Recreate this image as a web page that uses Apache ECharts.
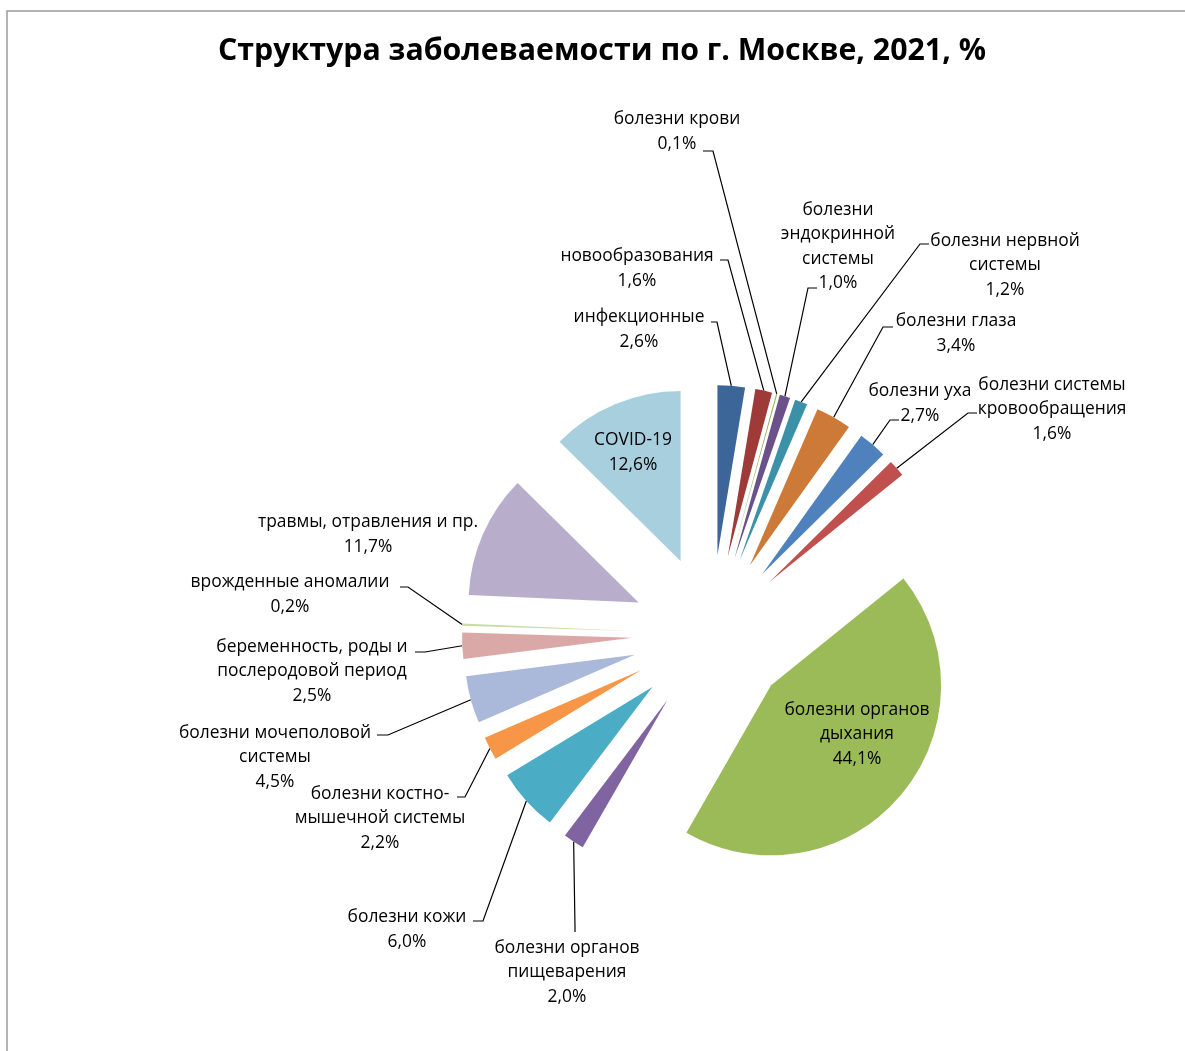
<!DOCTYPE html>
<html>
<head>
<meta charset="utf-8">
<script src="https://cdn.jsdelivr.net/npm/echarts@6/dist/echarts.min.js"></script>
<style>
  html, body { margin: 0; padding: 0; background: #fff; }
  #chart { width: 1185px; height: 1051px; }
</style>
</head>
<body>
<div id="chart"></div>
<script>
// Disease categories, clockwise from 12 o'clock
const categories = [
  'инфекционные',
  'новообразования',
  'болезни крови',
  'болезни\nэндокринной\nсистемы',
  'болезни нервной\nсистемы',
  'болезни глаза',
  'болезни уха',
  'болезни системы\nкровообращения',
  'болезни органов\nдыхания',
  'болезни органов\nпищеварения',
  'болезни кожи',
  'болезни костно-\nмышечной системы',
  'болезни мочеполовой\nсистемы',
  'беременность, роды и\nпослеродовой период',
  'врожденные аномалии',
  'травмы, отравления и пр.',
  'COVID-19'
];

// Share of total morbidity, %
const shares = [2.6, 1.6, 0.1, 1.0, 1.2, 3.4, 2.7, 1.6, 44.1, 2.0, 6.0, 2.2, 4.5, 2.5, 0.2, 11.7, 12.6];

const colors = [
  '#3c6698', '#9e3b38', '#8fae52', '#6a5189', '#3a91a8', '#cd7a38', '#4f81bd', '#c0504d',
  '#9bbb59', '#8064a2', '#4bacc6', '#f79646', '#aab9d9', '#daa8a7', '#c9dca3', '#b8aecb', '#a8cfde'
];

// Label block centres (px)
const labelPos = [
  [639, 329.5], [637, 268.5], [677, 131.5], [838, 246.5], [1005, 265.5], [956, 333.5], [920, 403.5], [1052, 409.5],
  [857, 734.5], [567, 972.5], [407, 929.5], [380, 818.5], [275, 757.5], [312, 671.5], [290, 594.5], [368, 534.5], [633, 452.5]
];

// Leader line bend and end points next to each label (null = no leader)
const leaderBends = [
  [[717, 322], [711, 322]],
  [[728, 260], [720, 260]],
  [[713, 151], [703, 151]],
  [[808, 288], [817, 288]],
  [[920, 244], [929, 244]],
  [[883, 327], [893, 327]],
  [[890, 420], [899, 420]],
  [[968, 413], [977, 413]],
  null,
  [[575, 928], [575, 932]],
  [[483, 921], [473, 921]],
  [[465, 797], [457, 797]],
  [[388, 735], [377, 735]],
  [[425, 652], [415, 652]],
  [[408, 587], [400, 587]],
  null,
  null
];

// Pie centre, radius and explosion distance (px)
const CX = 711, CY = 634, R = 170, EXPLODE = 79;
const FONT = 'Open Sans';

// Mid angle of each slice, radians clockwise from 12 o'clock
const total = shares.reduce((a, b) => a + b, 0);
const midAngles = [];
let acc = 0;
shares.forEach(v => {
  midAngles.push((acc + v / 2) / total * Math.PI * 2);
  acc += v;
});

const fmt = v => v.toFixed(1).replace('.', ',') + '%';
const hidden = 'rgba(0,0,0,0)';

// One pie per slice: the whole ring is laid out by the pie scale, only slice k is painted,
// and that pie is shifted outward along the slice's bisector.
const series = categories.map((_, k) => {
  const a = midAngles[k];
  return {
    type: 'pie',
    silent: true,
    center: [CX + EXPLODE * Math.sin(a), CY - EXPLODE * Math.cos(a)],
    radius: R,
    startAngle: 90,
    clockwise: true,
    avoidLabelOverlap: false,
    emphasis: { disabled: true },
    z: 2,
    label: {
      show: false,
      position: 'outside',
      formatter: p => p.name + '\n' + fmt(p.value),
      fontFamily: FONT,
      fontSize: 17.4,
      lineHeight: 24.5,
      color: '#000',
      align: 'center',
      overflow: 'none'
    },
    labelLine: {
      show: false,
      length: 10,
      length2: 10,
      lineStyle: { color: '#000', width: 1.2 }
    },
    labelLayout: function (params) {
      const i = params.dataIndex;
      if (i !== k) return {};
      const out = { x: labelPos[i][0], y: labelPos[i][1], align: 'center', verticalAlign: 'middle' };
      const b = leaderBends[i];
      if (b) {
        const d = EXPLODE + R;
        const anchor = [CX + d * Math.sin(a), CY - d * Math.cos(a)];
        out.labelLinePoints = [anchor, b[0].slice(), b[1].slice()];
      }
      return out;
    },
    data: categories.map((name, i) => ({
      name: name,
      value: shares[i],
      itemStyle: { color: i === k ? colors[i] : hidden, borderWidth: 0 },
      label: { show: i === k },
      labelLine: { show: i === k && leaderBends[i] !== null }
    }))
  };
});

const chart = echarts.init(document.getElementById('chart'), null, { renderer: 'canvas' });

chart.setOption({
  animation: false,
  backgroundColor: '#ffffff',
  title: {
    text: 'Структура заболеваемости по г. Москве, 2021, %',
    left: 597,
    top: 31,
    textAlign: 'center',
    textStyle: {
      fontFamily: FONT,
      fontWeight: 'bold',
      fontSize: 30.3,
      color: '#000'
    }
  },
  graphic: [{
    type: 'rect',
    silent: true,
    shape: { x: 7, y: 11, width: 1400, height: 1300 },
    style: { fill: null, stroke: '#9a9a9a', lineWidth: 1.5 }
  }],
  series: series
});
</script>
</body>
</html>
